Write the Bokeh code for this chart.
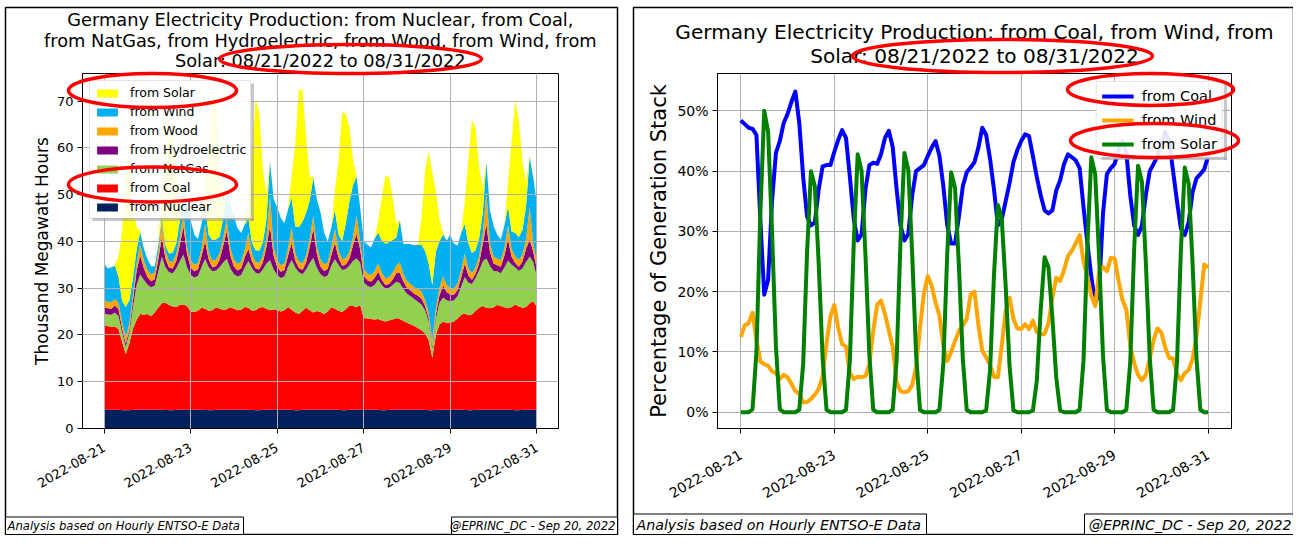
import numpy as np
import pandas as pd
from bokeh.plotting import figure
from bokeh.layouts import row, column
from bokeh.core.properties import value
from bokeh.models import (ColumnDataSource, Legend, LegendItem, FixedTicker,
                          DatetimeTickFormatter, PrintfTickFormatter, Range1d, Spacer, GridBox)
from bokeh.embed import file_html
from bokeh.resources import INLINE

FONT = "DejaVu Sans"

# two-hourly samples, 2022-08-21 00:00 .. 2022-08-31 00:00
times = pd.date_range("2022-08-21 00:00", "2022-08-31 00:00", freq="2h")
tick_dates = ["2022-08-21", "2022-08-23", "2022-08-25", "2022-08-27", "2022-08-29", "2022-08-31"]

# ---- left chart: generation, thousand MWh (one row per day) ----
nuclear = [
    4.0, 4.0, 4.0, 4.0, 4.0, 3.9, 3.9, 3.9, 4.0, 4.0, 4.0, 4.0,
    4.0, 4.0, 4.0, 4.0, 4.0, 4.0, 3.9, 3.9, 4.0, 4.0, 4.0, 4.0,
    4.0, 4.0, 4.0, 4.0, 4.0, 3.9, 3.9, 4.0, 4.0, 4.0, 4.0, 4.0,
    4.0, 4.0, 4.0, 4.0, 4.0, 4.0, 3.9, 3.9, 4.0, 4.0, 4.0, 4.0,
    4.0, 4.0, 4.0, 4.0, 4.0, 3.9, 3.9, 4.0, 4.0, 4.0, 4.0, 4.0,
    4.0, 4.0, 4.0, 4.0, 4.0, 4.0, 3.9, 3.9, 4.0, 4.0, 4.0, 4.0,
    4.0, 4.0, 4.0, 4.0, 4.0, 3.9, 3.9, 4.0, 4.0, 4.0, 4.0, 4.0,
    4.0, 4.0, 4.0, 4.0, 4.0, 4.0, 3.9, 3.9, 4.0, 4.0, 4.0, 4.0,
    4.0, 4.0, 4.0, 4.0, 4.0, 3.9, 3.9, 4.0, 4.0, 4.0, 4.0, 4.0,
    4.0, 4.0, 4.0, 4.0, 4.0, 4.0, 3.9, 3.9, 4.0, 4.0, 4.0, 4.0,
    4.0]
coal = [
    18.1, 17.9, 17.7, 17.8, 17.2, 14.6, 12.0, 14.3, 17.4, 19.2, 20.5, 20.3,
    20.5, 20.0, 20.8, 21.8, 22.8, 22.9, 22.5, 22.2, 22.0, 22.4, 22.5, 22.2,
    21.0, 20.9, 21.2, 21.8, 21.6, 21.3, 21.4, 21.9, 21.6, 21.4, 21.5, 21.9,
    21.6, 21.3, 21.4, 22.0, 21.8, 21.2, 21.4, 21.9, 22.0, 21.6, 21.3, 21.5,
    21.3, 21.0, 21.3, 22.0, 21.4, 20.9, 20.6, 21.2, 21.8, 21.3, 20.8, 21.1,
    20.9, 20.5, 21.0, 21.9, 21.6, 21.2, 21.0, 21.6, 22.3, 22.2, 21.9, 22.4,
    19.6, 19.5, 19.4, 19.3, 19.4, 19.2, 19.0, 19.1, 19.3, 19.6, 19.4, 19.0,
    18.6, 18.3, 17.9, 17.5, 17.0, 16.3, 15.0, 11.2, 16.0, 18.3, 18.8, 18.6,
    18.6, 18.9, 19.5, 20.3, 20.6, 20.3, 20.5, 21.2, 21.8, 22.2, 21.8, 21.7,
    21.9, 22.4, 22.2, 21.9, 21.7, 22.0, 22.6, 22.2, 21.8, 22.0, 22.8, 23.2,
    22.0]
natgas = [
    2.5, 2.5, 2.6, 3.0, 2.8, 2.0, 1.6, 2.2, 4.5, 7.5, 8.5, 7.5,
    6.3, 6.2, 5.7, 7.7, 10.0, 7.6, 7.0, 7.1, 8.2, 9.4, 10.7, 8.3,
    7.8, 7.4, 7.4, 8.7, 10.7, 9.3, 8.3, 7.9, 8.9, 10.1, 10.8, 8.3,
    7.4, 7.2, 7.4, 8.4, 10.0, 9.1, 8.0, 7.3, 8.0, 9.6, 10.7, 8.5,
    7.5, 7.2, 7.2, 8.6, 10.6, 9.6, 8.9, 7.8, 8.2, 10.1, 11.7, 9.2,
    8.1, 7.9, 7.7, 8.9, 10.6, 9.8, 9.0, 8.6, 8.5, 9.6, 10.5, 9.1,
    7.6, 7.0, 6.8, 7.4, 8.4, 7.6, 7.0, 7.0, 7.4, 7.8, 7.7, 6.8,
    6.2, 6.0, 5.8, 5.6, 5.5, 5.0, 4.0, 1.8, 3.5, 4.6, 5.2, 4.8,
    4.6, 4.5, 4.8, 6.0, 7.8, 7.0, 6.5, 7.0, 8.0, 9.5, 10.6, 9.0,
    7.8, 7.2, 7.0, 8.5, 10.2, 9.0, 8.0, 7.6, 8.4, 9.6, 10.0, 8.4,
    6.4]
hydro = [
    1.4, 1.3, 1.3, 1.5, 1.5, 0.9, 0.7, 0.8, 1.5, 3.0, 4.0, 2.5,
    1.6, 1.3, 1.4, 2.5, 4.2, 1.8, 1.0, 1.0, 1.6, 3.5, 6.0, 2.8,
    1.6, 1.3, 1.4, 2.4, 3.7, 1.6, 0.9, 0.9, 1.5, 3.5, 5.9, 2.8,
    1.6, 1.3, 1.4, 2.2, 2.6, 1.4, 0.9, 0.9, 1.5, 3.6, 7.2, 3.0,
    1.7, 1.3, 1.4, 2.4, 3.6, 1.5, 0.9, 0.9, 1.5, 3.4, 6.2, 3.0,
    1.6, 1.3, 1.4, 2.3, 3.5, 1.5, 0.9, 0.9, 1.5, 3.3, 5.2, 2.8,
    1.4, 1.2, 1.2, 1.5, 1.7, 1.1, 0.8, 0.8, 1.1, 1.8, 2.2, 1.6,
    1.3, 1.2, 1.1, 1.3, 1.3, 0.9, 0.7, 0.6, 0.9, 1.6, 2.5, 1.8,
    1.4, 1.2, 1.3, 2.0, 2.8, 1.5, 0.9, 0.9, 1.6, 3.8, 7.2, 3.0,
    1.6, 1.3, 1.4, 2.6, 4.5, 1.7, 0.9, 0.9, 1.5, 2.8, 3.6, 2.2,
    1.7]
wood = [
    1.4, 1.4, 1.4, 1.4, 1.4, 1.3, 1.3, 1.3, 1.4, 1.6, 2.5, 1.6,
    1.5, 1.4, 1.4, 1.6, 3.5, 1.6, 1.4, 1.4, 1.5, 1.8, 2.8, 1.6,
    1.5, 1.4, 1.4, 1.6, 3.8, 1.6, 1.4, 1.4, 1.5, 1.7, 2.6, 1.6,
    1.5, 1.4, 1.4, 1.6, 3.5, 1.6, 1.4, 1.4, 1.5, 1.8, 6.5, 1.7,
    1.5, 1.4, 1.4, 1.6, 3.5, 1.6, 1.4, 1.4, 1.5, 1.7, 2.8, 1.6,
    1.5, 1.4, 1.4, 1.6, 3.0, 1.6, 1.4, 1.4, 1.5, 1.8, 4.0, 1.7,
    1.5, 1.4, 1.4, 1.5, 1.8, 1.5, 1.4, 1.4, 1.5, 1.6, 2.2, 1.5,
    1.4, 1.4, 1.4, 1.4, 1.5, 1.3, 1.2, 1.2, 1.4, 1.6, 2.0, 1.5,
    1.4, 1.4, 1.4, 1.5, 2.2, 1.5, 1.4, 1.4, 1.5, 1.9, 7.0, 1.8,
    1.5, 1.4, 1.4, 1.6, 3.0, 1.6, 1.4, 1.4, 1.5, 2.0, 7.0, 1.8,
    1.5]
wind = [
    7.8, 7.1, 7.5, 7.1, 5.5, 4.5, 6.5, 5.0, 3.4, 2.9, 2.5, 2.6,
    2.4, 1.8, 1.4, 1.4, 0.9, 1.2, 1.6, 2.0, 2.3, 3.3, 6.3, 8.6,
    8.7, 6.5, 5.1, 5.2, 3.6, 3.7, 4.4, 4.3, 3.5, 4.2, 7.0, 9.5,
    9.3, 7.6, 6.2, 5.4, 3.0, 2.4, 2.5, 2.6, 2.8, 4.1, 7.4, 10.3,
    11.3, 10.1, 8.6, 8.3, 6.3, 5.7, 7.4, 8.9, 9.1, 8.2, 8.1, 10.1,
    10.1, 6.8, 4.5, 4.3, 4.0, 3.4, 3.9, 7.4, 10.7, 11.1, 8.2, 7.2,
    6.0, 6.2, 5.9, 6.9, 6.6, 6.9, 7.4, 7.5, 7.0, 6.0, 9.0, 6.5,
    8.0, 8.5, 9.0, 9.5, 10.0, 10.5, 10.5, 12.0, 12.0, 10.0, 9.0, 9.5,
    11.5, 9.5, 8.1, 8.0, 6.3, 5.4, 4.3, 3.6, 3.8, 4.9, 6.4, 7.1,
    6.5, 5.2, 4.4, 4.9, 4.0, 3.8, 5.0, 4.9, 5.3, 7.1, 10.7, 14.1,
    12.4]
solar = [
    0, 0, 0, 0.2, 4.5, 15.1, 30.8, 30.2, 14.9, 4.9, 0.2, 0,
    0, 0, 0, 0.2, 4.7, 18.7, 29.0, 26.4, 14.6, 4.9, 0.2, 0,
    0, 0, 0, 0.2, 4.8, 18.8, 32.1, 29.7, 15.2, 5.0, 0.2, 0,
    0, 0, 0, 0.2, 5.1, 19.4, 32.3, 29.7, 16.0, 5.2, 0.2, 0,
    0, 0, 0, 0.2, 4.6, 17.7, 29.3, 28.2, 16.2, 5.1, 0.2, 0,
    0, 0, 0, 0.1, 4.3, 15.6, 27.5, 23.5, 16.0, 5.4, 0.2, 0,
    0, 0, 0, 0.1, 2.6, 9.1, 14.6, 13.9, 9.1, 3.0, 0.2, 0,
    0, 0, 0, 0.2, 5.5, 17.0, 24.0, 24.0, 13.0, 4.5, 0.2, 0,
    0, 0, 0, 0.2, 4.8, 17.7, 28.5, 26.1, 15.1, 5.1, 0.2, 0,
    0, 0, 0, 0.2, 5.1, 19.3, 28.5, 25.0, 14.8, 5.1, 0.2, 0,
    0]

# ---- right chart: share of generation stack, percent ----
coal_pct = [
    48.4, 47.8, 47.2, 47.0, 46.0, 32.0, 19.5, 22.0, 35.0, 43.0, 45.0, 48.0,
    49.5, 51.5, 53.2, 48.0, 39.0, 32.5, 31.0, 31.5, 37.0, 40.8, 41.0, 41.0,
    43.2, 45.2, 46.8, 45.5, 39.0, 32.0, 28.5, 29.5, 37.0, 41.0, 41.4, 41.2,
    42.8, 45.5, 46.7, 44.0, 37.0, 31.0, 28.5, 29.6, 36.0, 40.0, 40.5, 41.0,
    42.5, 43.9, 45.0, 42.5, 37.5, 31.0, 28.0, 28.0, 32.5, 37.5, 39.8, 40.6,
    41.5, 43.9, 47.2, 46.0, 42.0, 37.0, 31.0, 32.0, 35.0, 38.0, 41.5, 43.5,
    45.0, 46.1, 45.8, 42.5, 39.0, 36.0, 33.5, 33.0, 33.5, 36.8, 38.5, 41.2,
    42.8, 42.3, 41.8, 40.5, 34.0, 28.0, 22.5, 18.0, 20.0, 33.0, 39.5, 40.5,
    41.2, 43.5, 45.0, 43.0, 36.0, 31.0, 29.4, 31.0, 36.0, 40.0, 41.2, 42.5,
    44.5, 46.5, 45.0, 40.0, 35.0, 30.5, 29.4, 31.5, 36.5, 38.8, 39.5, 40.3,
    42.5]
wind_pct = [
    12.5, 14.4, 14.8, 16.5, 12.0, 8.4, 8.0, 7.7, 6.8, 6.5, 5.5, 6.2,
    5.8, 4.7, 3.5, 3.1, 1.6, 1.7, 2.2, 2.9, 3.9, 6.0, 11.5, 15.9,
    17.8, 14.0, 11.3, 10.9, 6.5, 5.5, 5.9, 5.8, 6.0, 8.0, 13.5, 17.8,
    18.5, 16.3, 13.6, 10.8, 5.0, 3.5, 3.3, 3.5, 4.5, 7.5, 14.0, 19.7,
    22.6, 21.0, 18.2, 16.0, 11.0, 8.5, 10.0, 11.8, 13.5, 14.4, 15.5, 19.5,
    20.0, 14.5, 10.2, 9.1, 7.8, 5.9, 5.8, 11.0, 16.8, 19.0, 15.5, 13.9,
    13.8, 14.6, 13.8, 15.2, 13.3, 12.9, 13.0, 14.8, 19.0, 22.3, 21.8, 23.6,
    25.9, 26.8, 28.0, 29.4, 25.0, 22.5, 19.3, 17.6, 23.3, 24.1, 23.4, 25.6,
    25.5, 21.8, 18.6, 17.0, 11.0, 8.2, 6.2, 5.3, 6.2, 8.8, 12.0, 13.9,
    13.2, 10.7, 9.0, 8.9, 6.4, 5.3, 6.5, 7.0, 8.8, 12.5, 18.5, 24.5,
    24.0]
solar_pct = [
    0, 0, 0, 0.5, 10.0, 33.0, 50.0, 46.5, 30.0, 11.0, 0.5, 0,
    0, 0, 0, 0.4, 8.0, 26.5, 40.0, 37.5, 24.5, 9.0, 0.4, 0,
    0, 0, 0, 0.4, 8.7, 28.2, 42.8, 40.0, 26.0, 9.5, 0.4, 0,
    0, 0, 0, 0.4, 8.7, 28.4, 43.0, 40.2, 26.2, 9.6, 0.4, 0,
    0, 0, 0, 0.4, 8.0, 26.3, 39.8, 37.2, 24.2, 8.9, 0.4, 0,
    0, 0, 0, 0.3, 7.0, 22.7, 34.4, 32.1, 21.0, 7.7, 0.3, 0,
    0, 0, 0, 0.3, 5.2, 17.0, 25.7, 24.0, 15.7, 5.7, 0.3, 0,
    0, 0, 0, 0.4, 8.6, 27.9, 42.3, 39.5, 25.7, 9.4, 0.4, 0,
    0, 0, 0, 0.4, 8.3, 27.0, 40.9, 38.2, 24.9, 9.1, 0.4, 0,
    0, 0, 0, 0.4, 8.2, 26.8, 40.6, 37.9, 24.7, 9.0, 0.4, 0,
    0]

for arr in (nuclear, coal, natgas, hydro, wood, wind, solar, coal_pct, wind_pct, solar_pct):
    assert len(arr) == len(times), len(arr)

stack_names = ["nuclear", "coal", "natgas", "hydro", "wood", "wind", "solar"]
stack_labels = ["from Nuclear", "from Coal", "from NatGas", "from Hydroelectric",
                "from Wood", "from Wind", "from Solar"]
stack_colors = ["#002060", "#ff0000", "#92d050", "#800080", "#ffa500", "#00b0f0", "#ffff00"]

title_left = ["Germany Electricity Production: from Nuclear, from Coal,",
              "from NatGas, from Hydroelectric, from Wood, from Wind, from",
              "Solar: 08/21/2022 to 08/31/2022"]
title_right = ["Germany Electricity Production: from Coal, from Wind, from",
               "Solar: 08/21/2022 to 08/31/2022"]
note_left = "Analysis based on Hourly ENTSO-E Data"
note_right = "@EPRINC_DC - Sep 20, 2022"

tick_ms = [pd.Timestamp(d).value // 10**6 for d in tick_dates]
x_lo, x_hi = pd.Timestamp("2022-08-20 12:00"), pd.Timestamp("2022-08-31 12:00")

H = 527


def style(p, tick_size, label_size, x_standoff):
    xt = FixedTicker(ticks=tick_ms)
    p.xaxis.ticker = xt
    p.xgrid.ticker = xt
    p.xaxis.formatter = DatetimeTickFormatter(days="%Y-%m-%d", months="%Y-%m-%d",
                                              hours="%Y-%m-%d")
    p.xaxis.major_label_orientation = np.pi / 6
    p.xaxis.major_label_standoff = x_standoff
    for ax in (p.xaxis[0], p.yaxis[0]):
        ax.axis_line_color = "black"
        ax.major_tick_line_color = "black"
        ax.major_tick_out = 5
        ax.major_tick_in = 0
        ax.minor_tick_line_color = None
        ax.major_label_text_font = FONT
        ax.major_label_text_font_size = tick_size
        ax.major_label_text_color = "black"
        ax.axis_label_text_font = FONT
        ax.axis_label_text_font_size = label_size
        ax.axis_label_text_font_style = "normal"
        ax.axis_label_text_color = "black"
    p.outline_line_color = "black"
    p.grid.grid_line_color = "#b0b0b0"
    p.grid.grid_line_width = 1
    p.background_fill_color = "white"
    p.border_fill_color = "white"


# ------------------------------------------------------------ left panel
src = ColumnDataSource(dict(t=times, nuclear=nuclear, coal=coal, natgas=natgas,
                            hydro=hydro, wood=wood, wind=wind, solar=solar))

p1 = figure(width=612, height=H, x_axis_type="datetime", output_backend="svg",
            toolbar_location=None, x_range=Range1d(x_lo, x_hi), y_range=Range1d(0, 75.9),
            min_border_left=77, min_border_right=59, min_border_top=66, min_border_bottom=106)
areas = p1.varea_stack(stackers=stack_names, x="t", color=stack_colors, source=src)
style(p1, "13px", "17px", 13)
p1.yaxis.ticker = FixedTicker(ticks=[0, 10, 20, 30, 40, 50, 60, 70])
p1.ygrid.ticker = FixedTicker(ticks=[0, 10, 20, 30, 40, 50, 60, 70])
p1.yaxis.major_label_standoff = 4
p1.yaxis.axis_label = "Thousand Megawatt Hours"
p1.yaxis.axis_label_standoff = 2
p1.grid.level = "guide"

items1 = [LegendItem(label=lab, renderers=[r])
          for lab, r in reversed(list(zip(stack_labels, areas)))]
p1.add_layout(Legend(items=items1, location="top_left", margin=7, padding=4, spacing=4,
                     glyph_width=26, glyph_height=10, label_height=14, label_standoff=10,
                     label_text_font=FONT, label_text_font_size="12.5px",
                     label_text_color="black",
                     border_line_color="#cccccc", background_fill_alpha=0.9))

# ------------------------------------------------------------ right panel
p2 = figure(width=660, height=H, x_axis_type="datetime", output_backend="svg",
            toolbar_location=None, x_range=Range1d(x_lo, x_hi), y_range=Range1d(-2.7, 56.2),
            min_border_left=84, min_border_right=62, min_border_top=65, min_border_bottom=105)
r_coal = p2.line(times, coal_pct, line_color="#0000ff", line_width=4, line_join="round")
r_wind = p2.line(times, wind_pct, line_color="#ffa500", line_width=4, line_join="round")
r_solar = p2.line(times, solar_pct, line_color="#008000", line_width=4, line_join="round")
style(p2, "14px", "21px", 20)
p2.yaxis.ticker = FixedTicker(ticks=[0, 10, 20, 30, 40, 50])
p2.ygrid.ticker = FixedTicker(ticks=[0, 10, 20, 30, 40, 50])
p2.yaxis.formatter = PrintfTickFormatter(format="%d%%")
p2.yaxis.major_label_standoff = 4
p2.yaxis.axis_label = "Percentage of Generation Stack"
p2.yaxis.axis_label_standoff = 3

p2.add_layout(Legend(items=[LegendItem(label="from Coal", renderers=[r_coal]),
                            LegendItem(label="from Wind", renderers=[r_wind]),
                            LegendItem(label="from Solar", renderers=[r_solar])],
                     location="top_right", margin=8, padding=5, spacing=6,
                     glyph_width=32, glyph_height=18, label_height=18, label_standoff=8,
                     label_text_font=FONT, label_text_font_size="14.5px",
                     label_text_color="black",
                     border_line_color="#cccccc", background_fill_alpha=0.9))

charts = column(Spacer(height=7), row(Spacer(width=5), p1, Spacer(width=16), p2))

# ------------------------------------------------------------ overlay: titles, notes, frames, rings
# a transparent plot laid over both panels, one data unit per page pixel
OW, OH = 1293, 535
ov = figure(width=OW, height=OH, x_range=Range1d(0, OW), y_range=Range1d(0, OH),
            x_axis_type=None, y_axis_type=None, min_border=0, toolbar_location=None,
            output_backend="svg", title=None)
ov.outline_line_color = None
ov.background_fill_alpha = 0
ov.border_fill_alpha = 0


def Y(y):
    return OH - y


# panel frames
ov.quad(left=[5, 633], right=[617, 1293], top=[Y(7), Y(7)], bottom=[Y(534), Y(534)],
        fill_color=None, line_color="black", line_width=1.5)

# legend drop shadows (right and bottom strips)
ov.quad(left=[250.5, 92, 1223.5, 1101],
        right=[253.5, 253.5, 1226.5, 1226.5],
        top=[Y(83), Y(217.5), Y(83), Y(156.5)],
        bottom=[Y(220.5), Y(220.5), Y(159.5), Y(159.5)],
        fill_color="#999999", fill_alpha=0.55, line_color=None)

# titles
ov.text(x=[319.8] * 3, y=[Y(18.8), Y(39.5), Y(60.2)], text=title_left,
        text_font=value(FONT), text_font_size=value("17.8px"), text_color="black",
        text_align="center", text_baseline="middle")
ov.text(x=[974] * 2, y=[Y(31.5), Y(55.5)], text=title_right,
        text_font=value(FONT), text_font_size=value("20.1px"), text_color="black",
        text_align="center", text_baseline="middle")

# footnote boxes
ov.quad(left=[5, 451], right=[243, 617], top=[Y(516.5)] * 2, bottom=[Y(534)] * 2,
        fill_color="white", line_color="black", line_width=1)
ov.quad(left=[633, 1084], right=[926, 1293], top=[Y(513.5)] * 2, bottom=[Y(534)] * 2,
        fill_color="white", line_color="black", line_width=1)
ov.text(x=[7, 615], y=[Y(525.5)] * 2, text=[note_left, note_right],
        text_align=["left", "right"], text_font=value(FONT), text_font_size=value("11.6px"),
        text_font_style="italic", text_color="black", text_baseline="middle")
ov.text(x=[636, 1291], y=[Y(524)] * 2, text=[note_left, note_right],
        text_align=["left", "right"], text_font=value(FONT), text_font_size=value("14.2px"),
        text_font_style="italic", text_color="black", text_baseline="middle")

# red rings
ov.ellipse(x=[350, 152, 152, 1002, 1150, 1154],
           y=[Y(58.5), Y(90), Y(184), Y(55.5), Y(89), Y(140)],
           width=[262, 168, 168, 300, 166, 168],
           height=[29, 34, 35, 33, 32, 34],
           fill_color=None, line_color="red", line_width=3.5)

layout = GridBox(children=[(charts, 0, 0), (ov, 0, 0)])
open("out.html", "w").write(file_html(layout, INLINE))
